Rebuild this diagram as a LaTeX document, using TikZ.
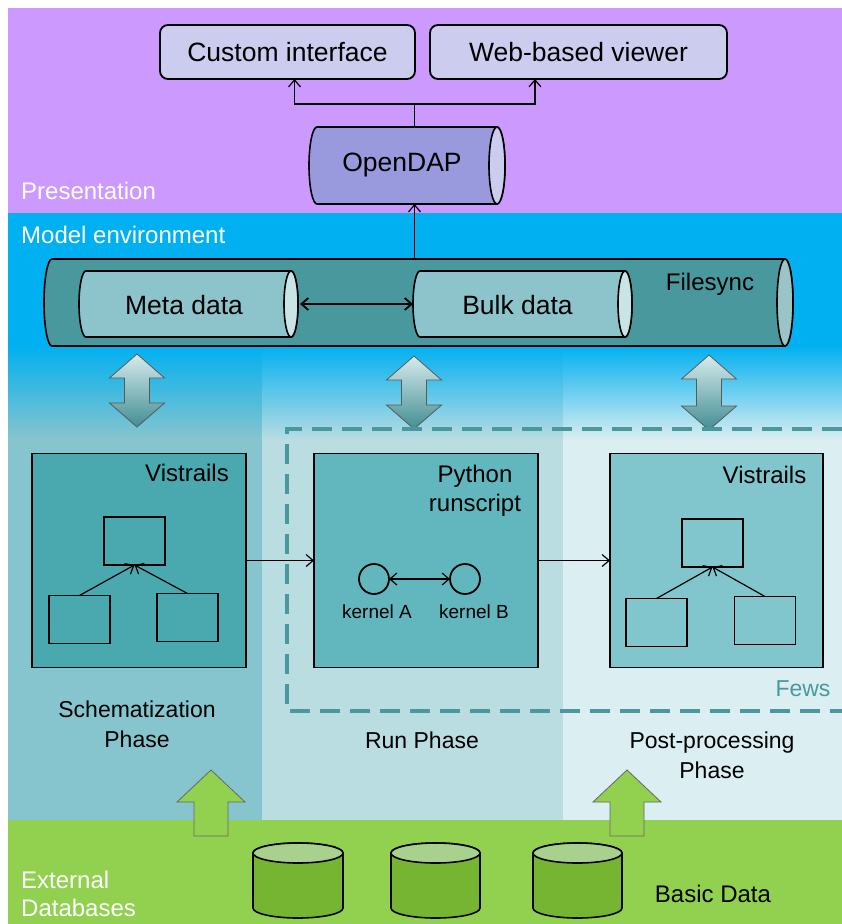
\documentclass[tikz,border=0pt]{standalone}
\usepackage{fontspec}
\setmainfont{Liberation Sans}
\usetikzlibrary{arrows.meta,calc}
\definecolor{purp}{RGB}{204,153,255}
\definecolor{lav}{RGB}{204,204,238}
\definecolor{odap}{RGB}{153,153,221}
\definecolor{sky}{RGB}{0,176,240}
\definecolor{colL}{RGB}{135,197,206}
\definecolor{colM}{RGB}{186,221,226}
\definecolor{colR}{RGB}{219,238,241}
\definecolor{grn}{RGB}{146,208,80}
\definecolor{dbody}{RGB}{118,181,49}
\definecolor{dcap}{RGB}{169,209,142}
\definecolor{fsync}{RGB}{73,152,157}
\definecolor{fcap}{RGB}{154,196,198}
\definecolor{mbody}{RGB}{141,196,204}
\definecolor{mcap}{RGB}{200,228,231}
\definecolor{cVisA}{RGB}{74,168,175}
\definecolor{cPyt}{RGB}{98,183,190}
\definecolor{cVisB}{RGB}{129,198,204}
\definecolor{fewsc}{RGB}{74,152,157}
\definecolor{arrtop}{RGB}{214,235,237}
\definecolor{arrmid}{RGB}{150,185,188}
\definecolor{arrbot}{RGB}{66,142,147}
\newcommand\myhcyl[7]{%
  \filldraw[fill=#6, line width=1.6pt] ({#3-#5},#2) -- ({#1+#5},#2)
    arc[start angle=-90,end angle=-270,x radius=#5,y radius={(#4-#2)/2}] -- ({#3-#5},#4)
    arc[start angle=90,end angle=-90,x radius=#5,y radius={(#4-#2)/2}] -- cycle;
  \filldraw[fill=#7, line width=1.6pt] ({#3-#5},{(#2+#4)/2}) ellipse[x radius=#5, y radius={(#4-#2)/2}];}
\newcommand\myvcyl[7]{%
  \filldraw[fill=#6, line width=1.6pt] (#1,{#2+#5}) -- (#1,{#4-#5})
    arc[start angle=180,end angle=0,x radius={(#3-#1)/2},y radius=#5] -- (#3,{#2+#5})
    arc[start angle=0,end angle=-180,x radius={(#3-#1)/2},y radius=#5] -- cycle;
  \filldraw[fill=#7, line width=1.6pt] ({(#1+#3)/2},{#2+#5}) ellipse[x radius={(#3-#1)/2}, y radius=#5];}
\newcommand\mydblarrow[3]{%
  \shade[draw=gray!70!black, line width=0.8pt, top color=arrtop, middle color=arrmid, bottom color=arrbot]
    (#1,#2) -- ({#1+27.5},{#2+24}) -- ({#1+12.5},{#2+24}) -- ({#1+12.5},{#3-24}) -- ({#1+27.5},{#3-24})
    -- (#1,#3) -- ({#1-27.5},{#3-24}) -- ({#1-12.5},{#3-24}) -- ({#1-12.5},{#2+24}) -- ({#1-27.5},{#2+24}) -- cycle;}
\newcommand\myuparrow[1]{%
  \filldraw[fill=grn, draw=gray!80!black, line width=0.8pt] (#1,770) -- ({#1+34},802) -- ({#1+17},802)
    -- ({#1+17},836) -- ({#1-17},836) -- ({#1-17},802) -- ({#1-34},802) -- cycle;}
\begin{document}
\begin{tikzpicture}[x=1pt,y=-1pt,
  box/.style={draw=black, line width=1.8pt, inner sep=0pt, outer sep=0pt},
  small/.style={draw=black, line width=1.8pt, inner sep=0pt, outer sep=0pt, minimum width=61pt, minimum height=48pt},
  arr/.style={line width=1.2pt, -{Straight Barb[length=7pt,width=12pt]}},
  dbl/.style={line width=1.8pt, {Straight Barb[length=7pt,width=12pt]}-{Straight Barb[length=7pt,width=12pt]}},
  geo/.style={inner sep=0pt, outer sep=0pt},
  tbig/.style={inner sep=0pt, font=\fontsize{26.5}{30}\selectfont},
  tmid/.style={inner sep=0pt, font=\fontsize{24}{29}\selectfont},
  tph/.style={inner sep=0pt, align=center, font=\fontsize{23}{30}\selectfont},
  tsm/.style={inner sep=0pt, font=\fontsize{19}{22}\selectfont},
  twh/.style={inner sep=0pt, text=white, anchor=west, align=left, font=\fontsize{24}{28}\selectfont}]
\useasboundingbox (0,0) rectangle (842,924);
% backgrounds
\fill[white] (0,0) rectangle (842,924);
\fill[purp] (8,8) rectangle (842,213.5);
\fill[sky] (8,213) rectangle (842,346);
\shade[top color=sky,bottom color=colL] (8,345.5) rectangle (262,440);
\shade[top color=sky,bottom color=colM] (262,345.5) rectangle (563,440);
\shade[top color=sky,bottom color=colR] (563,345.5) rectangle (842,440);
\fill[colL] (8,439.5) rectangle (262,820.5);
\fill[colM] (262,439.5) rectangle (563,820.5);
\fill[colR] (563,439.5) rectangle (842,820.5);
\fill[grn] (8,820) rectangle (842,924);
% presentation layer
\node[box, rounded corners=8pt, fill=lav, minimum width=255pt, minimum height=54pt, tbig] (custom) at (287.5,52) {Custom interface};
\node[box, rounded corners=8pt, fill=lav, minimum width=297pt, minimum height=54pt, tbig] (web) at (578.5,52) {Web-based viewer};
\myhcyl{309}{127}{505}{204}{8}{odap}{lav}
\node[geo, minimum width=196pt, minimum height=77pt] (opendap) at (407,165.5) {};
\node[tbig] (opendapT) at (402,165) {OpenDAP};
\coordinate (split) at ($([xshift=7.5pt]opendap.north)+(0,-23)$);
\draw[line width=1.2pt] ([xshift=7.5pt]opendap.north) -- (split);
\draw[arr] (split) -| ([xshift=7pt]custom.south);
\draw[arr] (split) -| ([xshift=-43.5pt]web.south);
\node[twh] (pres) at (21,191) {Presentation};
% model environment
\node[twh] (modenv) at (21,235) {Model environment};
\myhcyl{44}{259}{793}{346}{8}{fsync}{fcap}
\node[geo, minimum width=749pt, minimum height=87pt] (filesync) at (418.5,302.5) {};
\node[tmid] (filesyncT) at (710,284) {Filesync};
\myhcyl{79}{271}{298}{337}{7}{mbody}{mcap}
\node[geo, minimum width=219pt, minimum height=66pt] (meta) at (188.5,304) {};
\node[tbig] (metaT) at (184,305) {Meta data};
\myhcyl{413}{271}{632}{337}{7}{mbody}{mcap}
\node[geo, minimum width=219pt, minimum height=66pt] (bulk) at (522.5,304) {};
\node[tbig] (bulkT) at (517.5,305) {Bulk data};
\draw[dbl] ([xshift=2pt]meta.east) -- (bulk.west);
\draw[arr] (filesync.north -| split) -- ([xshift=7.5pt]opendap.south);
% exchange arrows
\mydblarrow{137}{354}{427}
\mydblarrow{414}{356}{429}
\mydblarrow{709}{355}{430}
% Fews frame
\draw[fewsc, line width=3.5pt, dash pattern=on 20pt off 10pt] (842,429) -- (287,429) -- (287,711) -- (842,711);
\node[inner sep=0pt, text=fewsc, font=\fontsize{23}{28}\selectfont] (fews) at (803,689) {Fews};
% schematization
\node[box, fill=cVisA, minimum width=214pt, minimum height=214pt] (visA) at (139,560.5) {};
\node[tmid] (visAT) at (187,473) {Vistrails};
\node[small] (vAt) at (134.5,541) {};
\node[small] (vAl) at (79.5,619.5) {};
\node[small] (vAr) at (187.5,617.5) {};
\draw[arr] (vAl.north) -- (vAt.south);
\draw[arr] (vAr.north) -- (vAt.south);
% run
\node[box, fill=cPyt, minimum width=224pt, minimum height=214pt] (python) at (426,560.5) {};
\node[tmid, align=center] (pythonT) at (475,491) {Python\\runscript};
\node[circle, draw=black, line width=1.8pt, minimum size=30pt, inner sep=0pt, outer sep=0pt] (kA) at (374,579) {};
\node[circle, draw=black, line width=1.8pt, minimum size=30pt, inner sep=0pt, outer sep=0pt] (kB) at (465,579) {};
\draw[arr, {Straight Barb[length=7pt,width=12pt]}-{Straight Barb[length=7pt,width=12pt]}] (kA) -- (kB);
\node[tsm] (kAT) at (377,612) {kernel A};
\node[tsm] (kBT) at (474,612) {kernel B};
% post-processing
\node[box, fill=cVisB, minimum width=213pt, minimum height=214pt] (visB) at (716.5,560.5) {};
\node[tmid] (visBT) at (764.5,475) {Vistrails};
\node[small] (vBt) at (712.5,543) {};
\node[small] (vBl) at (656.5,622.5) {};
\node[small] (vBr) at (765,620.5) {};
\draw[arr] (vBl.north) -- (vBt.south);
\draw[arr] (vBr.north) -- (vBt.south);
\draw[arr] (visA.east) -- (python.west);
\draw[arr] (python.east) -- (visB.west);
% phase labels
\node[tph] (schem) at (137,724) {Schematization\\Phase};
\node[tph] (runph) at (422,740) {Run Phase};
\node[tph] (postph) at (712,755) {Post-processing\\Phase};
% external databases
\myuparrow{211}
\myuparrow{627}
\myvcyl{253}{843}{343}{918}{10}{dbody}{dcap}
\myvcyl{391}{843}{480}{918}{10}{dbody}{dcap}
\myvcyl{533}{843}{622}{918}{10}{dbody}{dcap}
\node[twh] (ext) at (21,894) {External\\Databases};
\node[tmid] (basic) at (713,894) {Basic Data};
\end{tikzpicture}
\end{document}
